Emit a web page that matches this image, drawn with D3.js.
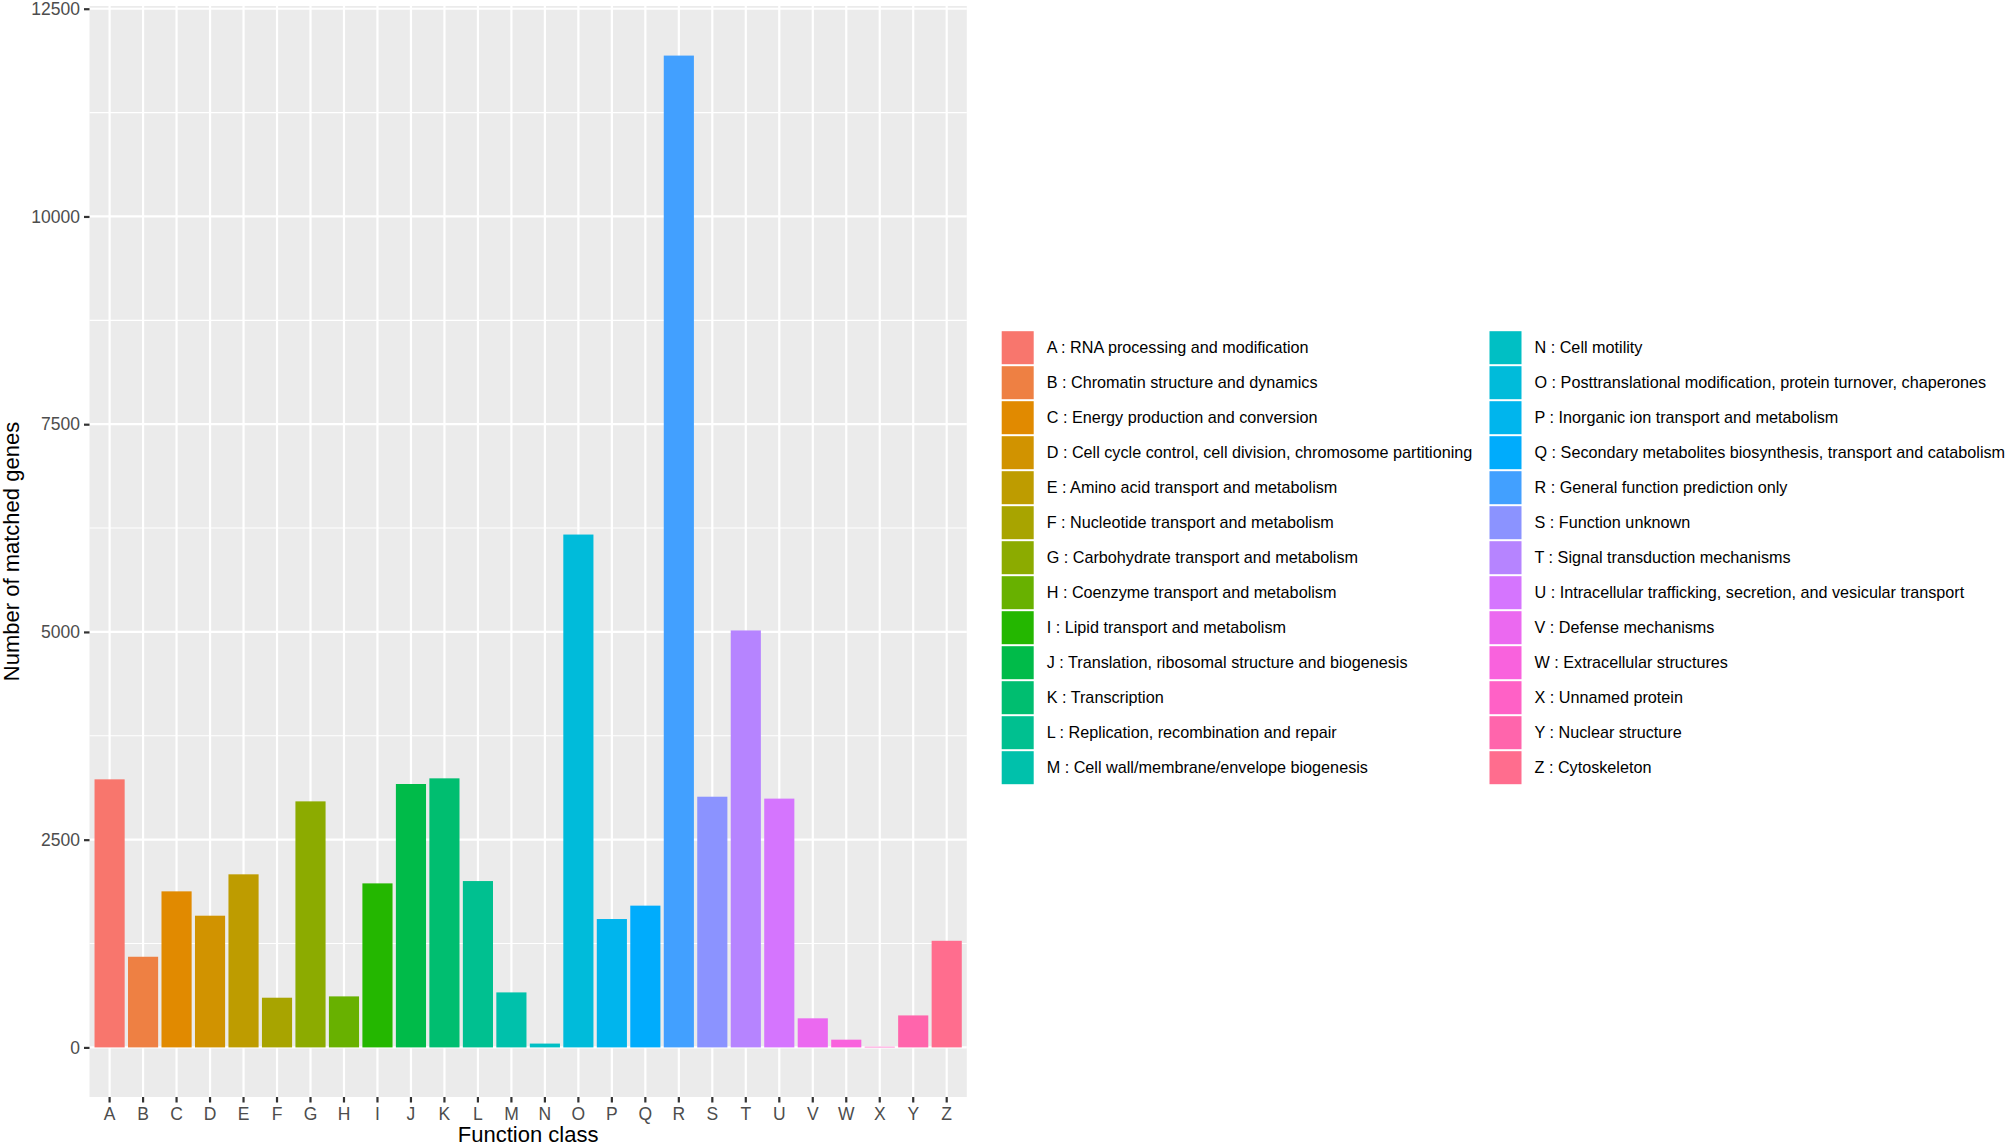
<!DOCTYPE html>
<html>
<head>
<meta charset="utf-8">
<script src="https://cdn.jsdelivr.net/npm/d3@7"></script>
<style>
  body { margin: 0; background: #fff; }
  text { font-family: "Liberation Sans", Arial, Helvetica, sans-serif; }
</style>
</head>
<body>
<svg id="chart"></svg>
<script>
// COG function classes
const classes = ["A","B","C","D","E","F","G","H","I","J","K","L","M",
                 "N","O","P","Q","R","S","T","U","V","W","X","Y","Z"];

const counts = [3226, 1091, 1878, 1585, 2083, 598, 2961, 614, 1974, 3170, 3238, 2002, 662,
                46, 6172, 1545, 1706, 11936, 3017, 5018, 2994, 350, 93, 8, 385, 1283];

const descriptions = [
    "RNA processing and modification",
    "Chromatin structure and dynamics",
    "Energy production and conversion",
    "Cell cycle control, cell division, chromosome partitioning",
    "Amino acid transport and metabolism",
    "Nucleotide transport and metabolism",
    "Carbohydrate transport and metabolism",
    "Coenzyme transport and metabolism",
    "Lipid transport and metabolism",
    "Translation, ribosomal structure and biogenesis",
    "Transcription",
    "Replication, recombination and repair",
    "Cell wall/membrane/envelope biogenesis",
    "Cell motility",
    "Posttranslational modification, protein turnover, chaperones",
    "Inorganic ion transport and metabolism",
    "Secondary metabolites biosynthesis, transport and catabolism",
    "General function prediction only",
    "Function unknown",
    "Signal transduction mechanisms",
    "Intracellular trafficking, secretion, and vesicular transport",
    "Defense mechanisms",
    "Extracellular structures",
    "Unnamed protein",
    "Nuclear structure",
    "Cytoskeleton"
];

const yTicks = [0, 2500, 5000, 7500, 10000, 12500];
const yMinorTicks = [1250, 3750, 6250, 8750, 11250];

const data = classes.map((c, i) => ({ cls: c, value: counts[i], desc: descriptions[i] }));

// ggplot-style hue palette (polar LUV -> sRGB), l = 65, c = 100
function hclColor(h, c, l) {
    const WHITE_Y = 100.0, WHITE_u = 0.1978398, WHITE_v = 0.4683363;
    const rad = h * Math.PI / 180;
    const U = c * Math.cos(rad), V = c * Math.sin(rad);
    const Y = WHITE_Y * (l > 7.999592 ? Math.pow((l + 16) / 116, 3) : l / 903.3);
    const u = U / (13 * l) + WHITE_u;
    const v = V / (13 * l) + WHITE_v;
    const X = 9.0 * Y * u / (4 * v);
    const Z = -X / 3 - 5 * Y + 3 * Y / v;
    const gt = t => t > 0.00304 ? 1.055 * Math.pow(t, 1 / 2.4) - 0.055 : 12.92 * t;
    const r = gt(( 3.240479 * X - 1.537150 * Y - 0.498535 * Z) / WHITE_Y);
    const g = gt((-0.969256 * X + 1.875992 * Y + 0.041556 * Z) / WHITE_Y);
    const b = gt(( 0.055648 * X - 0.204043 * Y + 1.057311 * Z) / WHITE_Y);
    const cl = t => Math.round(Math.max(0, Math.min(1, t)) * 255);
    return d3.rgb(cl(r), cl(g), cl(b)).formatHex();
}
const n = classes.length;
const palette = classes.map((c, i) => hclColor(15 + 360 * i / n, 100, 65));
const color = d3.scaleOrdinal().domain(classes).range(palette);

const width = 2006, height = 1147;
const panel = { left: 89.5, right: 966.8, top: 6, bottom: 1097 };

const svg = d3.select("#chart").attr("width", width).attr("height", height);

const maxV = d3.max(counts);
const pad = maxV * 0.05;
const y = d3.scaleLinear().domain([-pad, maxV + pad]).range([panel.bottom, panel.top]);
const x = d3.scaleBand().domain(classes).range([panel.left, panel.right])
    .paddingInner(0.1).paddingOuter(0.15);

// Panel background
svg.append("rect")
    .attr("x", panel.left).attr("y", panel.top)
    .attr("width", panel.right - panel.left).attr("height", panel.bottom - panel.top)
    .attr("fill", "#EBEBEB");

// Grid lines
svg.append("g").selectAll("line.minor")
    .data(yMinorTicks).enter().append("line")
    .attr("x1", panel.left).attr("x2", panel.right)
    .attr("y1", d => y(d)).attr("y2", d => y(d))
    .attr("stroke", "#fff").attr("stroke-width", 1.1);

svg.append("g").selectAll("line.major")
    .data(yTicks).enter().append("line")
    .attr("x1", panel.left).attr("x2", panel.right)
    .attr("y1", d => y(d)).attr("y2", d => y(d))
    .attr("stroke", "#fff").attr("stroke-width", 2.2);

svg.append("g").selectAll("line.vx")
    .data(classes).enter().append("line")
    .attr("x1", d => x(d) + x.bandwidth() / 2).attr("x2", d => x(d) + x.bandwidth() / 2)
    .attr("y1", panel.top).attr("y2", panel.bottom)
    .attr("stroke", "#fff").attr("stroke-width", 2.2);

// Bars
svg.append("g").selectAll("rect")
    .data(data).enter().append("rect")
    .attr("x", d => x(d.cls))
    .attr("width", x.bandwidth())
    .attr("y", d => y(d.value))
    .attr("height", d => y(0) - y(d.value))
    .attr("fill", d => color(d.cls));

// Axes
const yAxis = svg.append("g")
    .attr("transform", `translate(${panel.left},0)`)
    .call(d3.axisLeft(y).tickValues(yTicks).tickSize(5.5).tickPadding(4).tickFormat(d3.format("d")));
const xAxis = svg.append("g")
    .attr("transform", `translate(0,${panel.bottom})`)
    .call(d3.axisBottom(x).tickSize(5.5).tickPadding(5));

[yAxis, xAxis].forEach(a => {
    a.select(".domain").remove();
    a.selectAll(".tick line").attr("stroke", "#333333").attr("stroke-width", 2.2);
    a.selectAll(".tick text").attr("fill", "#4D4D4D").attr("font-size", 17.5)
        .attr("font-family", "'Liberation Sans', Arial, Helvetica, sans-serif");
});

// Axis titles
svg.append("text")
    .attr("x", (panel.left + panel.right) / 2)
    .attr("y", 1142)
    .attr("text-anchor", "middle")
    .attr("font-size", 22)
    .attr("fill", "#000")
    .text("Function class");

svg.append("text")
    .attr("transform", `translate(19,${(panel.top + panel.bottom) / 2}) rotate(-90)`)
    .attr("text-anchor", "middle")
    .attr("font-size", 22)
    .attr("fill", "#000")
    .text("Number of matched genes");

// Legend (two columns, 13 rows each)
const rowsPerCol = 13;
const colX = [1001.7, 1489.5];
const rowStep = 35;
const firstRowY = 347.7;
const keySize = 32;

const legend = svg.append("g");
const items = legend.selectAll("g.item")
    .data(data).enter().append("g")
    .attr("transform", (d, i) => {
        const col = Math.floor(i / rowsPerCol), row = i % rowsPerCol;
        return `translate(${colX[col]},${firstRowY + row * rowStep})`;
    });

items.append("rect")
    .attr("x", 0).attr("y", -keySize / 2 - 0.5)
    .attr("width", keySize).attr("height", keySize + 1)
    .attr("fill", d => color(d.cls));

items.append("text")
    .attr("x", keySize + 13)
    .attr("y", 0)
    .attr("dy", "0.35em")
    .attr("font-size", 16.2)
    .attr("fill", "#000")
    .text(d => `${d.cls} : ${d.desc}`);
</script>
</body>
</html>
